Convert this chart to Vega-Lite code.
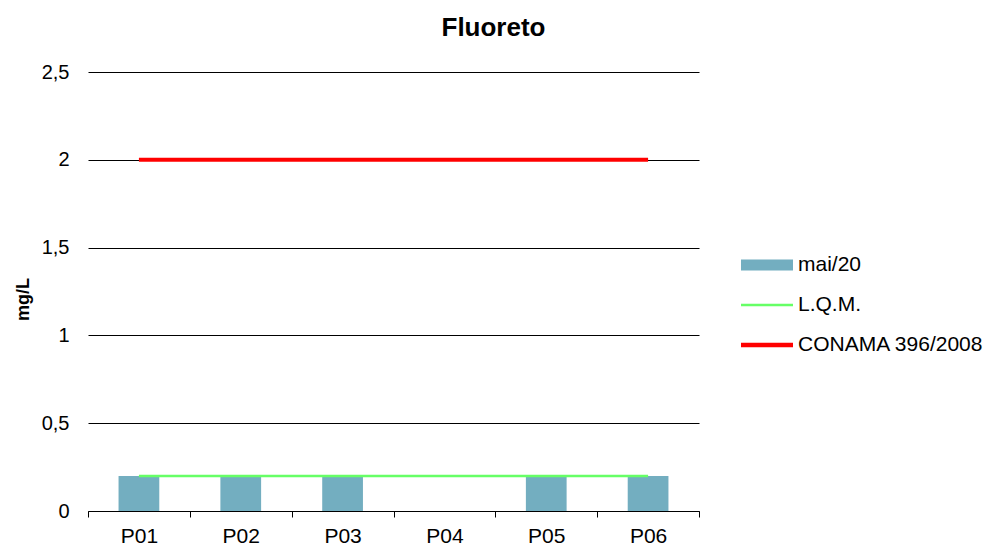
{
  "$schema": "https://vega.github.io/schema/vega-lite/v6.json",
  "width": 611,
  "height": 439,
  "autosize": {"type": "none"},
  "padding": {"left": 88, "top": 72, "right": 290, "bottom": 34},
  "background": "white",
  "config": {
    "font": "Liberation Sans",
    "view": {"stroke": null}
  },
  "title": {
    "text": "Fluoreto",
    "font": "Liberation Sans",
    "fontSize": 26,
    "fontWeight": "bold",
    "color": "black",
    "anchor": "middle",
    "dx": 100,
    "offset": 21
  },
  "data": {
    "values": [
      {"ponto": "P01", "serie": "mai/20", "valor": 0.2},
      {"ponto": "P02", "serie": "mai/20", "valor": 0.2},
      {"ponto": "P03", "serie": "mai/20", "valor": 0.2},
      {"ponto": "P05", "serie": "mai/20", "valor": 0.2},
      {"ponto": "P06", "serie": "mai/20", "valor": 0.2},
      {"ponto": "P01", "serie": "L.Q.M.", "valor": 0.2},
      {"ponto": "P02", "serie": "L.Q.M.", "valor": 0.2},
      {"ponto": "P03", "serie": "L.Q.M.", "valor": 0.2},
      {"ponto": "P04", "serie": "L.Q.M.", "valor": 0.2},
      {"ponto": "P05", "serie": "L.Q.M.", "valor": 0.2},
      {"ponto": "P06", "serie": "L.Q.M.", "valor": 0.2},
      {"ponto": "P01", "serie": "CONAMA 396/2008", "valor": 2},
      {"ponto": "P02", "serie": "CONAMA 396/2008", "valor": 2},
      {"ponto": "P03", "serie": "CONAMA 396/2008", "valor": 2},
      {"ponto": "P04", "serie": "CONAMA 396/2008", "valor": 2},
      {"ponto": "P05", "serie": "CONAMA 396/2008", "valor": 2},
      {"ponto": "P06", "serie": "CONAMA 396/2008", "valor": 2}
    ]
  },
  "encoding": {
    "x": {
      "field": "ponto",
      "type": "nominal",
      "scale": {"domain": ["P01", "P02", "P03", "P04", "P05", "P06"], "paddingInner": 0, "paddingOuter": 0},
      "axis": {
        "title": null,
        "labelAngle": 0,
        "labelFontSize": 21,
        "labelColor": "black",
        "labelPadding": 8,
        "domainColor": "black",
        "tickColor": "black",
        "tickSize": 6,
        "tickBand": "extent",
        "grid": false
      }
    },
    "y": {
      "field": "valor",
      "type": "quantitative",
      "scale": {"domain": [0, 2.5], "nice": false},
      "axis": {
        "title": "mg/L",
        "titleFontSize": 18,
        "titleFontWeight": "bold",
        "titleColor": "black",
        "titlePadding": 9,
        "titleY": 227,
        "values": [0, 0.5, 1, 1.5, 2, 2.5],
        "labelExpr": "replace(format(datum.value, '.1~f'), '.', ',')",
        "labelFontSize": 20,
        "labelColor": "black",
        "labelPadding": 19,
        "ticks": false,
        "tickSize": 0,
        "domain": false,
        "grid": true,
        "gridColor": "black",
        "gridOpacity": 1,
        "gridWidth": 1
      }
    },
    "color": {
      "field": "serie",
      "type": "nominal",
      "scale": {
        "domain": ["mai/20", "L.Q.M.", "CONAMA 396/2008"],
        "range": ["#73AEC0", "#66FF66", "#FF0000"]
      },
      "legend": {
        "title": null,
        "orient": "none",
        "legendX": 653,
        "legendY": 167,
        "padding": 0,
        "symbolType": "M-1,-0.21H1V0.21H-1Z",
        "symbolSize": 2704,
        "symbolStrokeWidth": 0,
        "labelFontSize": 21,
        "labelColor": "black",
        "labelOffset": 5,
        "rowPadding": 4,
        "labelLimit": 300,
        "encode": {
          "symbols": {
            "update": {
              "fill": {"scale": "color", "field": "value"},
              "strokeWidth": {"value": 0},
              "opacity": {"value": 1},
              "shape": {"signal": "datum.value === 'mai/20' ? 'M-1,-0.21H1V0.21H-1Z' : datum.value === 'L.Q.M.' ? 'M-1,-0.05H1V0.05H-1Z' : 'M-1,-0.087H1V0.087H-1Z'"}
            }
          }
        }
      }
    }
  },
  "layer": [
    {
      "transform": [{"filter": "datum.serie === 'mai/20'"}],
      "mark": {"type": "bar", "width": {"band": 0.4}}
    },
    {
      "transform": [{"filter": "datum.serie === 'L.Q.M.'"}],
      "mark": {"type": "line", "strokeWidth": 2.5}
    },
    {
      "transform": [{"filter": "datum.serie === 'CONAMA 396/2008'"}],
      "mark": {"type": "line", "strokeWidth": 4}
    }
  ]
}
